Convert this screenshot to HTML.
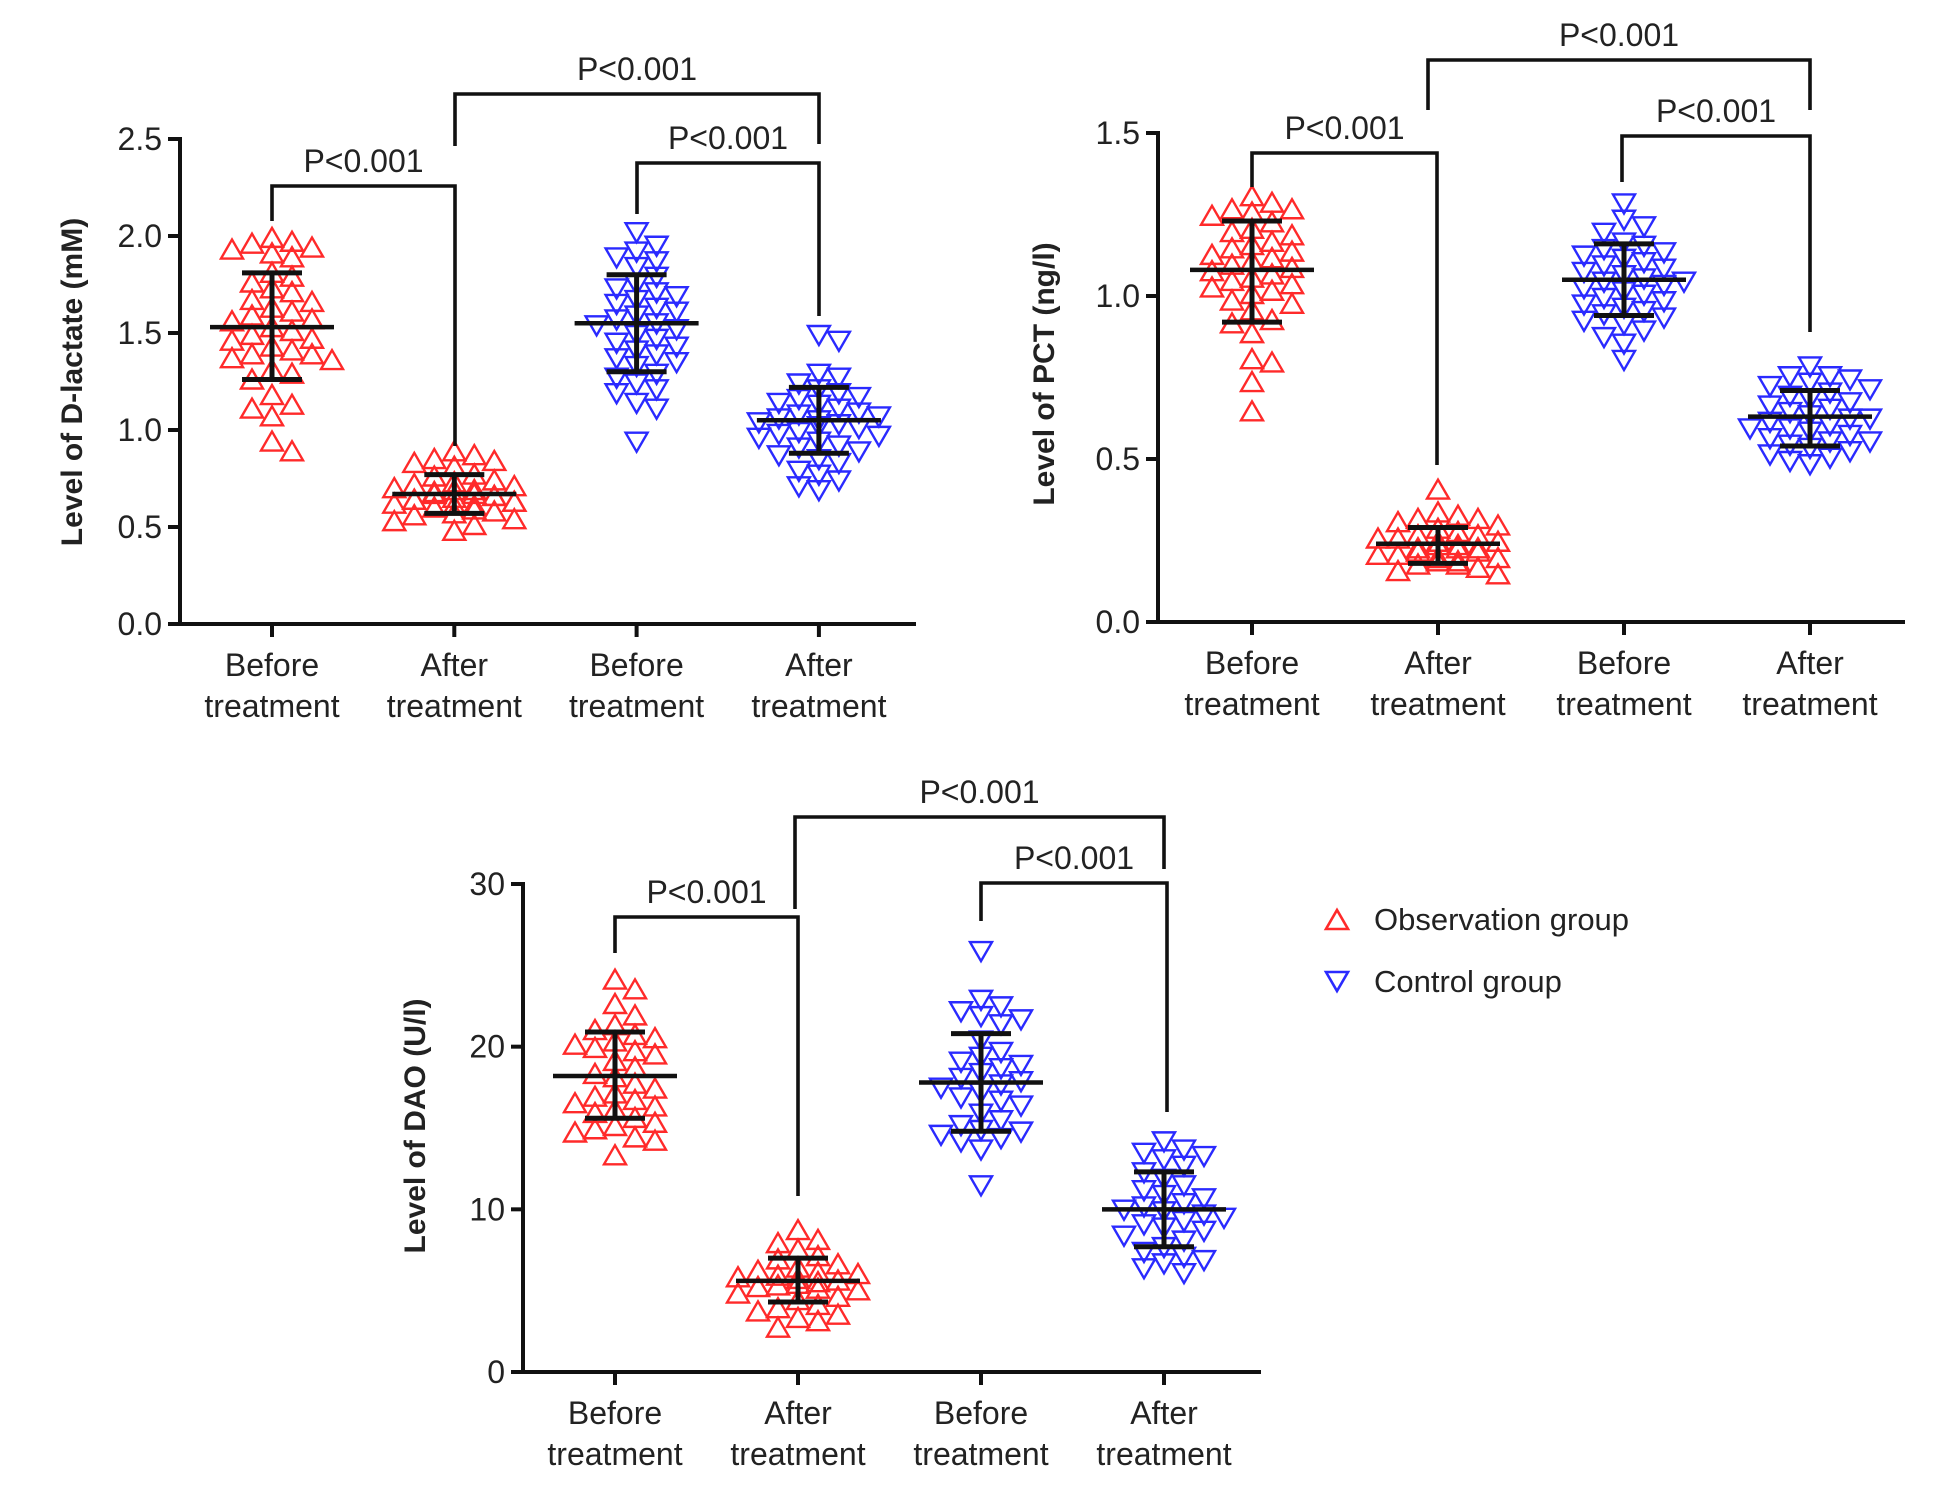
<!DOCTYPE html>
<html><head><meta charset="utf-8">
<style>
html,body{margin:0;padding:0;background:#fff;}
svg{display:block;}
text{font-family:"Liberation Sans",sans-serif;fill:#222;}
</style></head>
<body>
<svg id="fig" width="1937" height="1489" viewBox="0 0 1937 1489" xmlns="http://www.w3.org/2000/svg">
<g id="legend">
  <g>
    <polygon points="1326,929 1348,929 1337,910" fill="none" stroke="#ff2a2a" stroke-width="2.6"/>
    <text x="1374" y="930" font-size="31">Observation group</text>
  </g>
  <g>
    <polygon points="1326,972 1348,972 1337,991" fill="none" stroke="#2a2aff" stroke-width="2.6"/>
    <text x="1374" y="992" font-size="31">Control group</text>
  </g>
</g>
</svg>
<script>
// ---------- categories ----------
const categories = ["Before treatment","After treatment","Before treatment","After treatment"];
const groups = ["obs","obs","ctrl","ctrl"];
const pLabels = ["P<0.001","P<0.001","P<0.001"];

// ---------- Chart 1: D-lactate ----------
const dlTicks = [0,0.5,1.0,1.5,2.0,2.5];
const dlTickLabels = ["0.0","0.5","1.0","1.5","2.0","2.5"];
const dlObsBefore = [1.98,1.96,1.95,1.93,1.92,1.90,1.88,1.80,1.78,1.75,1.72,1.70,1.66,1.65,1.62,1.60,1.58,1.56,1.55,1.52,1.50,1.48,1.46,1.45,1.42,1.40,1.38,1.38,1.36,1.35,1.30,1.28,1.25,1.17,1.12,1.10,1.06,0.93,0.88];
const dlObsAfter = [0.88,0.86,0.84,0.83,0.82,0.80,0.76,0.75,0.73,0.72,0.71,0.70,0.69,0.68,0.68,0.67,0.66,0.66,0.65,0.65,0.64,0.63,0.63,0.62,0.62,0.61,0.60,0.60,0.59,0.58,0.57,0.56,0.55,0.53,0.52,0.50,0.47];
const dlCtrlBefore = [2.03,1.96,1.93,1.90,1.88,1.85,1.80,1.76,1.74,1.72,1.70,1.68,1.66,1.64,1.62,1.60,1.58,1.56,1.55,1.53,1.50,1.48,1.46,1.44,1.42,1.40,1.38,1.36,1.34,1.30,1.28,1.25,1.22,1.20,1.15,1.12,0.95];
const dlCtrlAfter = [1.50,1.47,1.30,1.28,1.25,1.22,1.20,1.18,1.17,1.15,1.14,1.12,1.10,1.09,1.08,1.07,1.06,1.05,1.04,1.03,1.02,1.00,0.99,0.98,0.97,0.95,0.93,0.92,0.90,0.88,0.86,0.84,0.80,0.78,0.75,0.72,0.70];
const dlMeans = [1.53,0.67,1.55,1.05];
const dlSdHigh = [1.81,0.77,1.80,1.22];
const dlSdLow = [1.26,0.57,1.30,0.88];

// ---------- Chart 2: PCT ----------
const pctTicks = [0,0.5,1.0,1.5];
const pctTickLabels = ["0.0","0.5","1.0","1.5"];
const pctObsBefore = [1.30,1.28,1.26,1.26,1.25,1.24,1.22,1.20,1.19,1.18,1.16,1.15,1.14,1.13,1.12,1.11,1.10,1.09,1.08,1.07,1.06,1.05,1.04,1.03,1.02,1.01,1.00,0.98,0.97,0.95,0.92,0.91,0.88,0.80,0.79,0.73,0.64];
const pctObsAfter = [0.40,0.33,0.32,0.31,0.31,0.30,0.29,0.28,0.27,0.26,0.26,0.25,0.25,0.24,0.24,0.23,0.23,0.22,0.22,0.22,0.21,0.21,0.20,0.20,0.19,0.19,0.18,0.18,0.17,0.17,0.16,0.15,0.14];
const pctCtrlBefore = [1.29,1.24,1.22,1.20,1.17,1.16,1.15,1.14,1.13,1.12,1.11,1.10,1.09,1.08,1.07,1.06,1.05,1.05,1.04,1.03,1.02,1.01,1.00,0.99,0.98,0.97,0.96,0.95,0.94,0.93,0.92,0.90,0.88,0.86,0.81];
const pctCtrlAfter = [0.79,0.76,0.76,0.75,0.74,0.73,0.72,0.71,0.70,0.69,0.68,0.67,0.66,0.65,0.64,0.63,0.63,0.62,0.61,0.60,0.60,0.59,0.58,0.57,0.56,0.56,0.55,0.54,0.53,0.52,0.51,0.50,0.49];
const pctMeans = [1.08,0.24,1.05,0.63];
const pctSdHigh = [1.23,0.29,1.16,0.71];
const pctSdLow = [0.92,0.18,0.94,0.54];

// ---------- Chart 3: DAO ----------
const daoTicks = [0,10,20,30];
const daoTickLabels = ["0","10","20","30"];
const daoObsBefore = [24.0,23.4,22.5,21.8,21.2,20.9,20.6,20.4,20.2,20.0,19.8,19.6,19.4,19.0,18.6,18.2,18.0,17.6,17.3,17.0,16.8,16.6,16.4,16.2,16.0,15.8,15.5,15.2,15.0,14.8,14.6,14.3,14.1,13.2];
const daoObsAfter = [8.6,8.0,7.8,7.4,7.0,6.8,6.5,6.3,6.1,6.0,5.9,5.8,5.7,5.6,5.5,5.4,5.3,5.2,5.1,5.0,4.9,4.7,4.5,4.3,4.0,3.8,3.6,3.4,3.2,3.0,2.6];
const daoCtrlBefore = [26.0,23.0,22.6,22.3,22.0,21.8,21.5,20.5,19.8,19.5,19.2,19.0,18.8,18.5,18.2,18.0,17.8,17.6,17.3,17.0,16.8,16.5,16.0,15.6,15.3,15.0,14.9,14.7,14.5,14.3,13.8,11.6];
const daoCtrlAfter = [14.3,13.8,13.6,13.4,13.2,12.8,12.4,12.0,11.6,11.3,11.0,10.8,10.5,10.3,10.1,10.0,9.8,9.6,9.4,9.2,9.0,8.8,8.5,8.2,7.8,7.5,7.2,7.0,6.8,6.5,6.2];
const daoMeans = [18.2,5.6,17.8,10.0];
const daoSdHigh = [20.9,7.0,20.8,12.3];
const daoSdLow = [15.6,4.3,14.8,7.7];

const NS = "http://www.w3.org/2000/svg";
const svg = document.getElementById("fig");
function mk(tag, attrs, parent){
  const e = document.createElementNS(NS, tag);
  for (const k in attrs) e.setAttribute(k, attrs[k]);
  (parent||svg).appendChild(e);
  return e;
}
function line(p,x1,y1,x2,y2,w){ return mk("line",{x1,y1,x2,y2,stroke:"#111","stroke-width":w,"stroke-linecap":"butt"},p); }

function swarm(ys){
  const placed=[]; const out=[];
  ys.forEach(y=>{
    let best=0, bestC=1e9;
    for(let k=0;k<13;k++){
      const off = k===0?0:(k%2?1:-1)*Math.ceil(k/2)*10;
      let c=0;
      placed.forEach(p=>{ if(Math.abs(p[0]-off)<20 && Math.abs(p[1]-y)<15) c++; });
      if(c===0){best=off;bestC=0;break;}
      if(c<bestC){bestC=c;best=off;}
    }
    placed.push([best,y]); out.push(best);
  });
  return out;
}

function drawChart(cfg){
  const g = mk("g",{});
  
  
  const yS = v => cfg.y0 + (cfg.yTop - cfg.y0) * (v - cfg.ticks[0]) / (cfg.ticks[cfg.ticks.length-1] - cfg.ticks[0]);
  const xS = i => cfg.cx0 + i * cfg.dx;
  const yAxis = line(g, cfg.ax, yS(cfg.ticks[cfg.ticks.length-1])-2, cfg.ax, cfg.y0+2, 4);
  
  
  const xAxis = line(g, cfg.ax-12, cfg.y0, cfg.xEnd, cfg.y0, 4);
  
  
  cfg.ticks.forEach((t,i)=>{
    const yy = yS(t);
    line(g, cfg.ax-12, yy, cfg.ax, yy, 4);
    const tl = mk("text",{x:cfg.ax-18,y:yy+11,"font-size":32,"text-anchor":"end"},g);
    tl.textContent = cfg.tickLabels[i];
    
    
  });
  const tt = mk("text",{x:0,y:0,"font-size":30,"font-weight":"bold","text-anchor":"middle",transform:`translate(${cfg.titleX},${cfg.titleY}) rotate(-90)`},g);
  tt.textContent = cfg.title;
  
  
  categories.forEach((c,i)=>{
    const x = xS(i);
    line(g, x, cfg.y0, x, cfg.y0+13, 4);
    const parts = c.split(" ");
    const t1 = mk("text",{x:x,y:cfg.lab1,"font-size":32,"text-anchor":"middle"},g);
    t1.textContent = parts[0];
    
    
    const t2 = mk("text",{x:x,y:cfg.lab1+41,"font-size":32,"text-anchor":"middle"},g);
    t2.textContent = parts[1];
    
    
  });
  cfg.series.forEach((vals,i)=>{
    const obs = groups[i]==="obs";
    const col = obs ? "#ff2a2a" : "#2a2aff";
    const sorted = vals.slice().sort((a,b)=>b-a);
    const ys = sorted.map(yS);
    const offs = swarm(ys);
    ys.forEach((y,j)=>{
      const x = xS(i) + offs[j];
      const pts = obs ? `${x-11},${y+7} ${x+11},${y+7} ${x},${y-12}` : `${x-11},${y-7} ${x+11},${y-7} ${x},${y+12}`;
      const p = mk("polygon",{points:pts,fill:"none",stroke:col,"stroke-width":2.4,"stroke-linejoin":"miter"},g);
      
      
    });
  });
  cfg.means.forEach((m,i)=>{
    const x = xS(i);
    const eg = mk("g",{},g);
    
    
    line(eg, x, yS(cfg.sdHigh[i]), x, yS(cfg.sdLow[i]), 5);
    line(eg, x-30, yS(cfg.sdHigh[i]), x+30, yS(cfg.sdHigh[i]), 5);
    line(eg, x-30, yS(cfg.sdLow[i]), x+30, yS(cfg.sdLow[i]), 5);
    line(eg, x-62, yS(m), x+62, yS(m), 4.5);
  });
  cfg.brackets.forEach((b,k)=>{
    const bg = mk("g",{},g);
    
    
    mk("polyline",{points:`${b.x1},${b.b1} ${b.x1},${b.y} ${b.x2},${b.y} ${b.x2},${b.b2}`,fill:"none",stroke:"#111","stroke-width":3.6},bg);
    const t = mk("text",{x:(b.x1+b.x2)/2,y:b.y-14,"font-size":32,"text-anchor":"middle"},bg);
    t.textContent = pLabels[k];
    
    
  });
}

drawChart({name:"d-lactate-chart", ticks:dlTicks, tickLabels:dlTickLabels, y0:624, yTop:139, ax:180, xEnd:916,
  cx0:272, dx:182.3, lab1:676, title:"Level of D-lactate (mM)", titleX:82, titleY:382,
  series:[dlObsBefore,dlObsAfter,dlCtrlBefore,dlCtrlAfter], means:dlMeans, sdHigh:dlSdHigh, sdLow:dlSdLow,
  brackets:[{x1:272,x2:455,y:186,b1:221,b2:446},{x1:455,x2:819,y:94,b1:146,b2:144},{x1:637,x2:819,y:163,b1:214,b2:316}]});

drawChart({name:"pct-chart", ticks:pctTicks, tickLabels:pctTickLabels, y0:622, yTop:133, ax:1158, xEnd:1905,
  cx0:1252, dx:186, lab1:674, title:"Level of PCT (ng/l)", titleX:1054, titleY:374,
  series:[pctObsBefore,pctObsAfter,pctCtrlBefore,pctCtrlAfter], means:pctMeans, sdHigh:pctSdHigh, sdLow:pctSdLow,
  brackets:[{x1:1252,x2:1437,y:153,b1:187,b2:465},{x1:1428,x2:1810,y:60,b1:110,b2:110},{x1:1622,x2:1810,y:136,b1:182,b2:332}]});

drawChart({name:"dao-chart", ticks:daoTicks, tickLabels:daoTickLabels, y0:1372, yTop:884, ax:523, xEnd:1261,
  cx0:615, dx:183, lab1:1424, title:"Level of DAO (U/l)", titleX:425, titleY:1126,
  series:[daoObsBefore,daoObsAfter,daoCtrlBefore,daoCtrlAfter], means:daoMeans, sdHigh:daoSdHigh, sdLow:daoSdLow,
  brackets:[{x1:615,x2:798,y:917,b1:953,b2:1196},{x1:795,x2:1164,y:817,b1:909,b2:869},{x1:981,x2:1167,y:883,b1:921,b2:1112}]});
</script>
</body></html>
